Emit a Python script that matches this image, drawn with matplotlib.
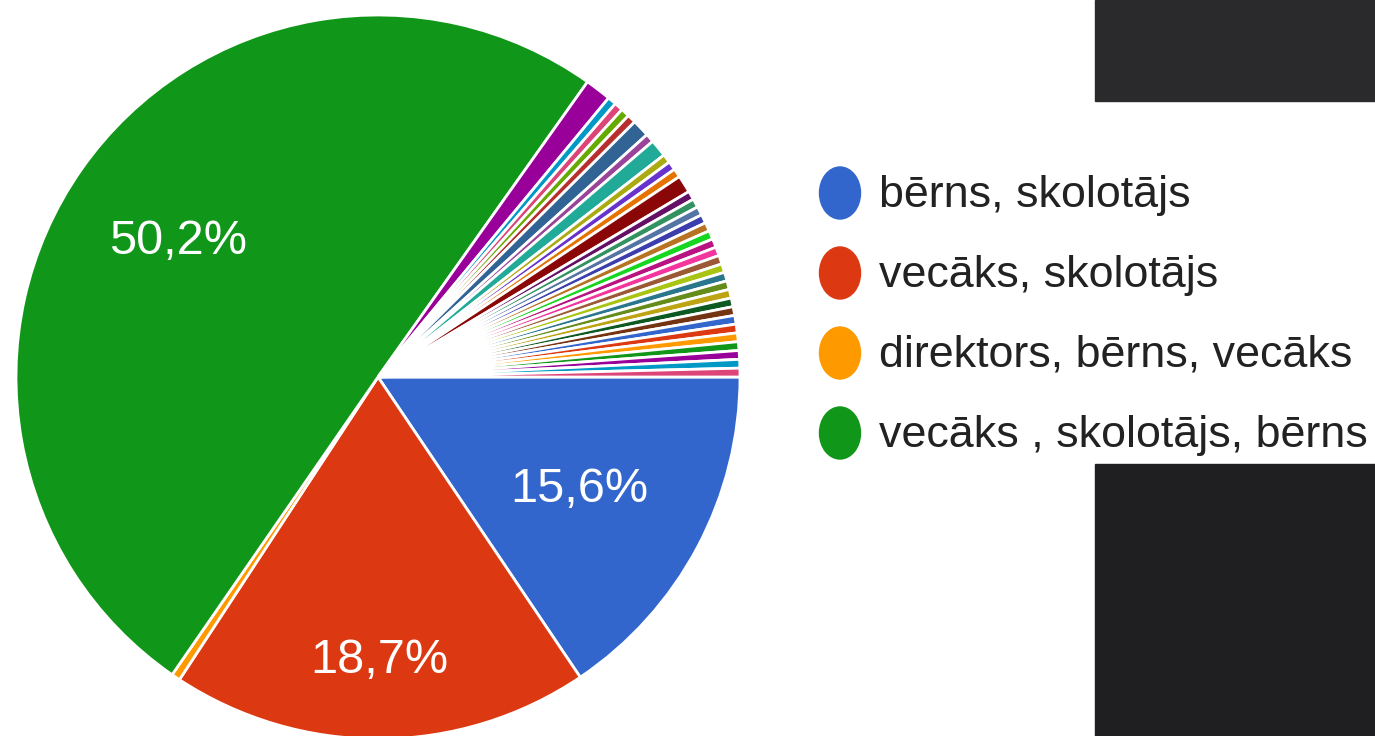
import numpy as np
import matplotlib
matplotlib.use("Agg")
from matplotlib import pyplot as plt
from matplotlib.patches import Ellipse, Rectangle

# answer counts (257 responses), Google Charts order, clockwise from 3 o'clock
counts = [40, 48, 1, 129,
          3, 1, 1, 1, 1, 2, 1, 2, 1, 1, 1, 2, 1, 1, 1, 1, 1, 1, 1, 1, 1, 1, 1, 1, 1, 1, 1,
          1, 1, 1, 1, 1, 1, 1]
palette = ["#3366cc", "#dc3912", "#ff9900", "#109618", "#990099", "#0099c6", "#dd4477",
           "#66aa00", "#b82e2e", "#316395", "#994499", "#22aa99", "#aaaa11", "#6633cc",
           "#e67300", "#8b0707", "#651067", "#329262", "#5574a6", "#3b3eac", "#b77322",
           "#16d620", "#b91383", "#f4359e", "#9c5935", "#a9c413", "#2a778d", "#668d1c",
           "#bea413", "#0c5922", "#743411"]
legend_labels = ["bērns, skolotājs", "vecāks, skolotājs",
                 "direktors, bērns, vecāks", "vecāks , skolotājs, bērns"]
label_slices = [0, 1, 3]
label_radius = [0.63, 0.77, 0.675]

plt.rcParams["font.family"] = ["Liberation Sans", "DejaVu Sans"]

W, H = 1375, 736
fig = plt.figure(figsize=(W / 100, H / 100), dpi=100)
fig.patch.set_facecolor("white")

# dark background blocks at the right edge of the screenshot
fig.patches.append(Rectangle((1095 / W, 1 - 101 / H), 280 / W, 101 / H,
                             transform=fig.transFigure, color="#2a2a2c", zorder=0))
fig.patches.append(Rectangle((1095 / W, 0), 280 / W, 272 / H,
                             transform=fig.transFigure, color="#1f1f21", zorder=0))

cx, cy, r = 378, 377, 362
ax = fig.add_axes([(cx - r) / W, (H - cy - r) / H, 2 * r / W, 2 * r / H])
colors = [palette[i % len(palette)] for i in range(len(counts))]
wedges, _ = ax.pie(counts, colors=colors, startangle=0, counterclock=False, radius=1,
                   wedgeprops=dict(edgecolor="white", linewidth=2.0))
ax.set_xlim(-1, 1)
ax.set_ylim(-1, 1)
ax.axis("off")

total = sum(counts)
for i, rr in zip(label_slices, label_radius):
    w = wedges[i]
    mid = np.deg2rad((w.theta1 + w.theta2) / 2)
    pct = f"{counts[i] / total * 100:.1f}%".replace(".", ",")
    ax.text(rr * np.cos(mid), rr * np.sin(mid), pct, color="white", fontsize=35,
            ha="center", va="center_baseline")

# legend drawn by hand to match the screenshot spacing
for k, lab in enumerate(legend_labels):
    y = 193 + 80 * k
    fig.patches.append(Ellipse((840 / W, 1 - y / H), 41 / W, 52 / H,
                               transform=fig.transFigure, color=palette[k], zorder=2))
    fig.text(879 / W, 1 - (y + 2) / H, lab, fontsize=32.3, color="#222222",
             ha="left", va="center")

fig.savefig("out.png", dpi=100)
